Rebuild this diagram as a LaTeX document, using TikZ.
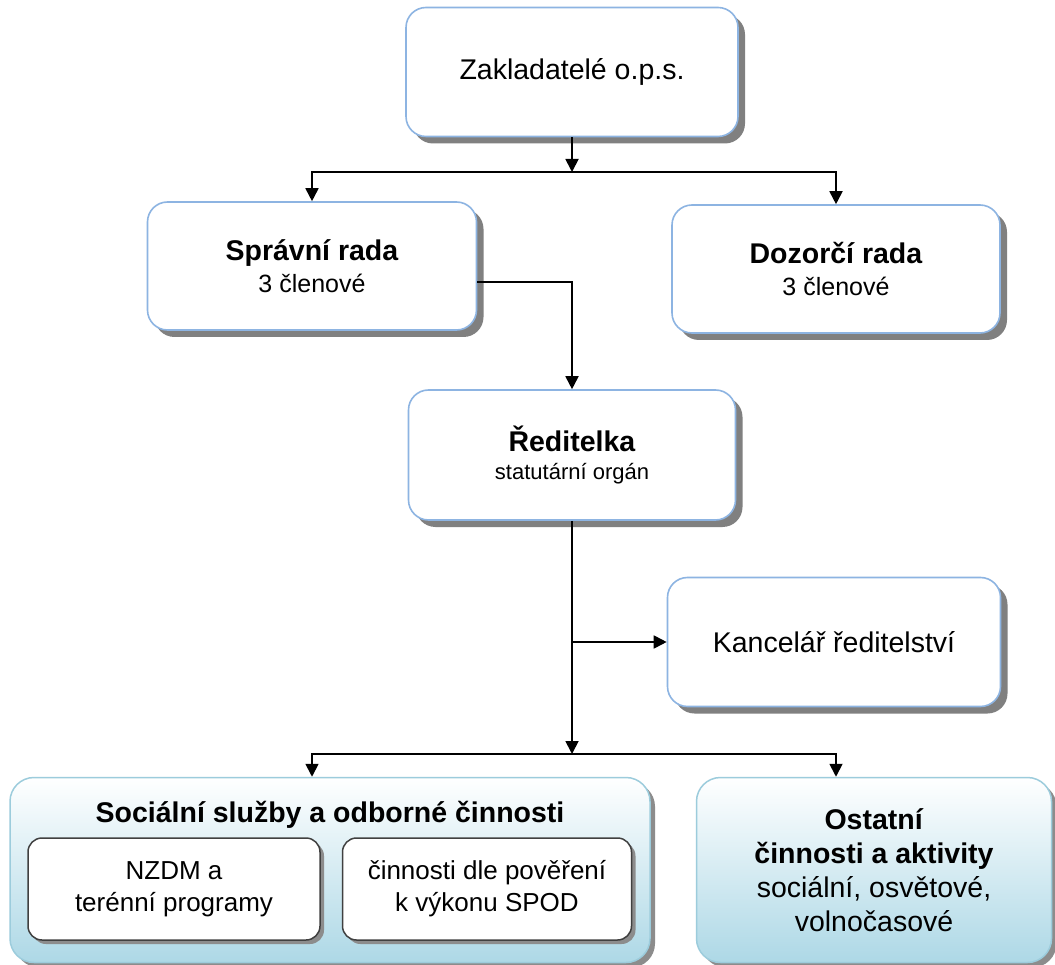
\documentclass[tikz,border=0pt]{standalone}
\usepackage{fontspec}
\setmainfont{Liberation Sans}
\usetikzlibrary{arrows.meta,shadows}
\definecolor{boxblue}{HTML}{8DB4E2}
\definecolor{lowblue}{HTML}{ADD8E6}
\definecolor{lowedge}{HTML}{9CCCDC}
\newcommand\mainsize{\fontsize{28.5}{32}\selectfont}
\newcommand\subsize{\fontsize{25}{32}\selectfont}
\newcommand\smallsize{\fontsize{22}{28}\selectfont}
\newcommand\innersize{\fontsize{26}{32}\selectfont}
\tikzset{>={Triangle[length=13pt,width=13pt]},
  conn/.style={line width=1.8pt,black},
  orgbox/.style 2 args={draw=boxblue,line width=1.6pt,fill=white,rounded corners=20pt,
    align=center,inner sep=0pt,minimum width=#1,minimum height=#2,
    drop shadow={shadow xshift=7pt,shadow yshift=-7pt,fill=black!50,opacity=1}},
  lowbox/.style 2 args={draw=lowedge,line width=1.5pt,top color=white,bottom color=lowblue,
    rounded corners=24pt,align=center,inner sep=0pt,minimum width=#1,minimum height=#2,
    drop shadow={shadow xshift=5pt,shadow yshift=-5pt,fill=black!45,opacity=1}},
  innerbox/.style 2 args={draw=black!75,line width=1.5pt,fill=white,rounded corners=14pt,
    align=center,inner sep=0pt,minimum width=#1,minimum height=#2,
    drop shadow={shadow xshift=4pt,shadow yshift=-4pt,fill=black!45,opacity=1}}}
\begin{document}
\begin{tikzpicture}[x=1pt,y=-1pt]
\useasboundingbox[fill=white] (0,0) rectangle (1055,965);
\node[orgbox={332pt}{129pt},font=\mainsize] (zak) at (572,72) {Zakladatelé o.p.s.};
\node[orgbox={329pt}{128pt},font=\mainsize] (spr) at (312,266) {\textbf{Správní rada}\\{\subsize 3 členové}};
\node[orgbox={328pt}{128pt},font=\mainsize] (doz) at (836,269) {\textbf{Dozorčí rada}\\{\subsize 3 členové}};
\node[orgbox={327pt}{130pt},font=\fontsize{28.5}{28}\selectfont] (red) at (572,455) {\textbf{Ředitelka}\\{\smallsize statutární orgán}};
\node[orgbox={333pt}{129pt},font=\mainsize] (kan) at (834,642) {Kancelář ředitelství};
% spodni bloky
\node[lowbox={640pt}{185pt}] (soc) at (330,870) {};
\node[font=\mainsize\bfseries] (soctitle) at (330,815) {Sociální služby a odborné činnosti};
\node[innerbox={292pt}{102pt},font=\innersize] (nzdm) at (174,889) {NZDM a\\terénní programy};
\node[innerbox={289pt}{102pt},font=\innersize] (spod) at (487,889) {činnosti dle pověření\\k výkonu SPOD};
\node[lowbox={355pt}{185pt},font=\fontsize{28.5}{34}\selectfont] (ost) at (874,870) {\textbf{Ostatní}\\\textbf{činnosti a aktivity}\\sociální, osvětové,\\volnočasové};
% spojnice
\coordinate (forka) at (572,172);
\draw[conn,->] (zak.south) -- (forka);
\draw[conn,->] (forka) -| (spr.north);
\draw[conn,->] (forka) -| (doz.north);
\draw[conn,->] ([yshift=-16pt]spr.east) -| (red.north);
\coordinate (forkb) at (572,754);
\draw[conn,->] (red.south) -- (forkb);
\draw[conn,->] (forkb) -| (spr |- soc.north);
\draw[conn,->] (forkb) -| (doz |- ost.north);
\draw[conn,->] (red.south |- kan.west) -- (kan.west);
\end{tikzpicture}
\end{document}
